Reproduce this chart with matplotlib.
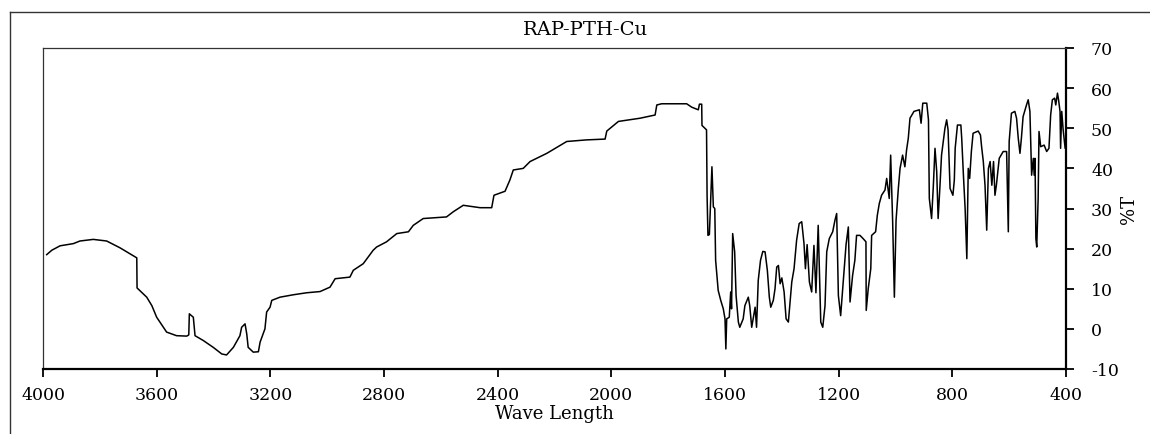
import matplotlib
matplotlib.use("Agg")
import matplotlib.pyplot as plt
from matplotlib.lines import Line2D

# IR spectrum of RAP-PTH-Cu
wavenumber = [
    3987, 3969, 3940, 3893, 3870, 3823, 3776, 3729, 3670, 3669,
    3635, 3617, 3600, 3565, 3530, 3494, 3487, 3485, 3471, 3465,
    3436, 3401, 3371, 3354, 3330, 3307, 3301, 3289, 3283, 3278,
    3260, 3242, 3236, 3219, 3213, 3201, 3195, 3166, 3119, 3072,
    3025, 2990, 2972, 2920, 2908, 2873, 2838, 2826, 2791, 2755,
    2714, 2697, 2662, 2580, 2556, 2521, 2462, 2421, 2413, 2374,
    2357, 2345, 2310, 2286, 2227, 2157, 2087, 2022, 2016, 1975,
    1899, 1846, 1840, 1823, 1735, 1717, 1694, 1690, 1682, 1681,
    1665, 1664, 1663, 1660, 1655, 1652, 1646, 1641, 1636, 1633,
    1624, 1615, 1606, 1600, 1597, 1594, 1585, 1580, 1577, 1573,
    1566, 1561, 1553, 1548, 1536, 1530, 1518, 1513, 1506, 1494,
    1489, 1483, 1475, 1467, 1459, 1451, 1444, 1439, 1430, 1424,
    1418, 1412, 1406, 1400, 1392, 1385, 1377, 1371, 1365, 1357,
    1348, 1339, 1330, 1322, 1317, 1311, 1303, 1295, 1287, 1280,
    1272, 1263, 1256, 1248, 1242, 1233, 1221, 1213, 1207, 1201,
    1193, 1184, 1174, 1166, 1160, 1151, 1143, 1137, 1125, 1114,
    1104, 1103, 1096, 1087, 1084, 1070, 1064, 1057, 1049, 1037,
    1031, 1022, 1017, 1010, 1004, 998, 990, 984, 975, 967,
    961, 955, 949, 935, 916, 910, 904, 890, 884, 881,
    873, 867, 861, 855, 850, 844, 838, 826, 820, 815,
    808, 798, 793, 790, 782, 770, 767, 761, 755, 749,
    744, 739, 733, 727, 709, 701, 697, 691, 685, 679,
    673, 667, 661, 655, 650, 645, 635, 621, 609, 603,
    600, 592, 580, 574, 568, 562, 557, 551, 539, 533,
    527, 521, 515, 512, 509, 506, 503, 498, 495, 489,
    477, 468, 460, 454, 448, 440, 436, 430, 426, 421,
    419, 415, 410, 403, 400,
]
transmittance = [
    18.5, 19.6, 20.7, 21.25, 21.9, 22.3, 21.9, 20.2, 17.7, 10.2,
    7.9, 5.8, 2.9, -0.8, -1.7, -1.8, -1.5, 3.75, 2.9, -1.7,
    -2.9, -4.6, -6.25, -6.5, -4.6, -1.7, 0.4, 1.25, -1.25, -4.6,
    -5.8, -5.7, -3.3, 0.0, 4.2, 5.4, 7.1, 7.9, 8.5, 9.0,
    9.3, 10.4, 12.5, 12.9, 14.6, 16.25, 19.6, 20.4, 21.7, 23.75,
    24.2, 25.8, 27.5, 27.9, 29.2, 30.8, 30.2, 30.2, 33.3, 34.3,
    37.1, 39.6, 40.0, 41.7, 43.75, 46.7, 47.1, 47.3, 49.3, 51.7,
    52.5, 53.3, 55.8, 56.1, 56.1, 55.25, 54.6, 56.0, 56.0, 50.7,
    49.6, 40.4, 33.0, 23.3, 23.5, 29.2, 40.4, 30.4, 30.0, 17.1,
    9.6, 7.1, 5.0, 2.5, -5.0, 2.5, 2.9, 9.2, 5.0, 23.75,
    19.2, 8.3, 1.7, 0.4, 2.5, 5.8, 7.9, 5.8, 0.4, 5.4,
    0.4, 12.1, 17.1, 19.3, 19.2, 14.6, 7.9, 5.4, 7.1, 10.0,
    15.4, 15.8, 11.25, 12.7, 9.2, 2.5, 1.7, 6.7, 11.7, 15.0,
    22.1, 26.25, 26.7, 21.25, 15.0, 21.0, 11.7, 9.2, 20.8, 9.0,
    25.8, 1.7, 0.4, 5.8, 19.2, 22.5, 24.2, 27.1, 28.75, 8.3,
    3.3, 11.7, 21.0, 25.4, 6.7, 13.3, 17.1, 23.3, 23.3, 22.5,
    21.7, 4.6, 10.0, 15.0, 23.3, 24.2, 28.3, 31.25, 33.3, 34.6,
    37.5, 32.5, 43.3, 26.7, 7.9, 27.1, 35.0, 40.0, 43.3, 40.4,
    44.6, 47.5, 52.5, 54.2, 54.6, 51.25, 56.25, 56.25, 52.1, 32.5,
    27.5, 35.4, 45.0, 39.2, 27.5, 35.0, 43.3, 50.0, 52.1, 49.6,
    35.0, 33.3, 37.1, 45.0, 50.8, 50.8, 47.5, 38.3, 30.0, 17.5,
    40.0, 37.5, 44.2, 48.75, 49.3, 48.3, 45.4, 41.7, 35.8, 24.6,
    40.0, 41.7, 35.8, 41.7, 33.3, 35.8, 42.5, 44.2, 44.2, 24.2,
    46.7, 53.75, 54.2, 52.5, 47.5, 43.75, 47.5, 52.9, 55.8, 57.1,
    54.2, 38.3, 42.5, 38.3, 42.5, 22.5, 20.4, 32.5, 49.2, 45.4,
    45.8, 44.2, 45.0, 53.3, 57.1, 57.5, 55.8, 58.75, 57.0, 54.2,
    45.0, 54.2, 49.6, 45.0, 45.0,
]
x_ticks = [4000, 3600, 3200, 2800, 2400, 2000, 1600, 1200, 800, 400]
y_ticks = [-10, 0, 10, 20, 30, 40, 50, 60, 70]

plt.rcParams['font.family'] = ['DejaVu Serif']
plt.rcParams['axes.unicode_minus'] = False

W, H = 1150, 435
fig = plt.figure(figsize=(W / 100, H / 100), dpi=100)
ax = fig.add_axes([43 / W, 1 - 370 / H, (1066 - 43) / W, (370 - 49) / H])

ax.plot(wavenumber, transmittance, color='black', linewidth=1.1)
ax.set_xlim(4000, 400)
ax.set_ylim(-10, 70)
ax.set_xticks(x_ticks)
ax.set_yticks(y_ticks)

ax.yaxis.tick_right()
ax.yaxis.set_label_position('right')
ax.tick_params(axis='x', direction='out', length=6, width=1.3, pad=6, labelsize=12.5)
ax.tick_params(axis='y', direction='out', length=6, width=1.3, pad=12, labelsize=12.5)

for side in ['top', 'left']:
    ax.spines[side].set_linewidth(0.9)
    ax.spines[side].set_color('#333333')
for side in ['bottom', 'right']:
    ax.spines[side].set_linewidth(1.6)
    ax.spines[side].set_color('black')

ax.set_xlabel("Wave Length", fontsize=13, labelpad=1)
ax.set_ylabel("%T", fontsize=13, labelpad=1, rotation=90)

fig.text(586 / W, 1 - 30 / H, "RAP-PTH-Cu", fontsize=14, ha='center', va='center')

# outer frame of the original figure (left and top edges)
fig.add_artist(Line2D([9.5 / W, 9.5 / W], [0, 1 - 13 / H], transform=fig.transFigure,
                      color='#333333', linewidth=1.0))
fig.add_artist(Line2D([9.5 / W, 1], [1 - 13 / H, 1 - 13 / H], transform=fig.transFigure,
                      color='#333333', linewidth=1.0))

fig.savefig("out.png", dpi=100)
